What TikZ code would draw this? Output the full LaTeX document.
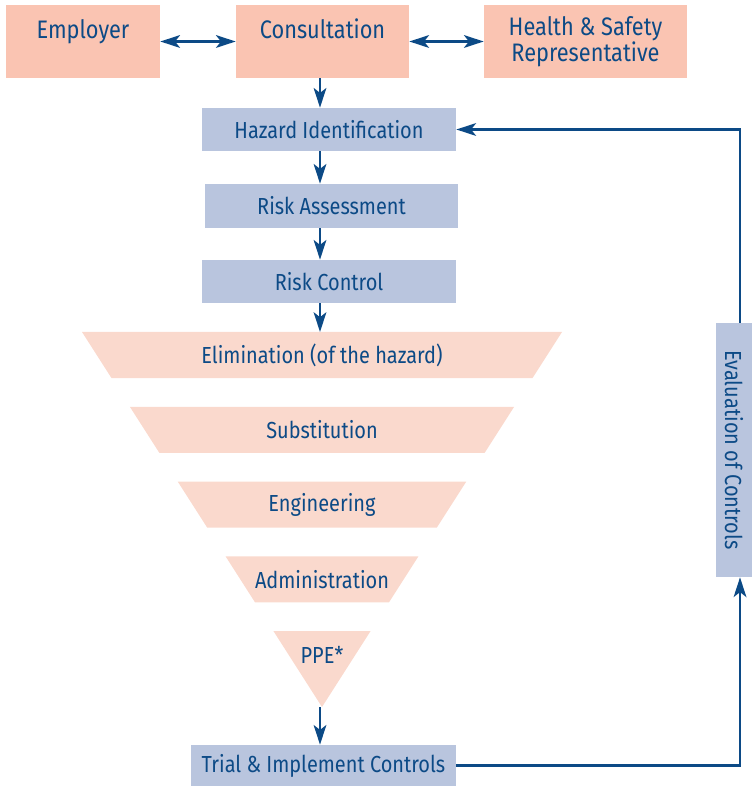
\documentclass[tikz,border=0pt]{standalone}
\usepackage{fontspec}
\setmainfont{Fira Sans}[FakeStretch=0.86]
\usepackage{graphicx}
\usetikzlibrary{arrows.meta}

\definecolor{topfill}{RGB}{250,196,178}
\definecolor{stepfill}{RGB}{250,217,205}
\definecolor{boxblue}{RGB}{185,197,222}
\definecolor{inkblue}{RGB}{12,74,134}

\tikzset{
  box/.style={fill=boxblue, inner sep=0pt, minimum height=1.075cm, text=inkblue},
  topbox/.style={fill=topfill, inner sep=0pt, minimum height=1.825cm, text=inkblue, align=center,
    font=\fontsize{18}{18.2}\selectfont},
  lifted/.style={minimum height=0pt, text height=0.83cm, text depth=0.995cm},
  flow/.style={draw=inkblue, line width=1.8pt},
}

\begin{document}
\begin{tikzpicture}[x=0.025cm, y=-0.025cm,
  >={Stealth[length=14pt,width=9pt,inset=3.5pt]},
  font=\fontsize{16.5}{17.7}\selectfont]
\useasboundingbox (0,0) rectangle (753,786);
\coordinate (axis) at (320,0);
\coordinate (fb) at (740,0);

% consultation row
\node[topbox, lifted, minimum width=3.85cm] (emp) at (83,41.5) {Employer};
\node[topbox, lifted, minimum width=4.325cm] (cons) at (322.5,41.5) {Consultation};
\node[topbox, minimum width=5.075cm] (hsr) at (585.5,41.5) {Health \& Safety\\Representative};
\draw[flow,<->] (emp) -- (cons);
\draw[flow,<->] (cons) -- (hsr);

% risk management steps
\node[box, minimum width=6.35cm] (haz) at (329,129.5) {Hazard Identification};
\node[box, minimum width=6.325cm, minimum height=1.1cm] (ra) at (331.5,206) {Risk Assessment};
\node[box, minimum width=6.35cm] (rc) at (329,281.5) {Risk Control};
\draw[flow,->] (cons.south -| axis) -- (haz.north -| axis);
\draw[flow,->] (haz.south -| axis) -- (ra.north -| axis);
\draw[flow,->] (ra.south -| axis) -- (rc.north -| axis);

% hierarchy of controls, bands cut from one inverted triangle
\foreach \n/\i/\txt in {elim/0/{Elimination (of the hazard)}, subs/1/Substitution,
                        eng/2/Engineering, adm/3/Administration}{
  \pgfmathsetmacro{\yt}{332+74.75*\i}
  \pgfmathsetmacro{\yb}{\yt+46}
  \fill[stepfill] ({322-(707-\yt)*0.64},\yt) -- ({322+(707-\yt)*0.64},\yt)
    -- ({322+(707-\yb)*0.64},\yb) -- ({322-(707-\yb)*0.64},\yb) -- cycle;
  \node[text=inkblue] (\n) at (322,{\yt+23}) {\txt};
  \coordinate (\n-top) at (320,\yt);
}
\fill[stepfill] (273.4,631) -- (370.6,631) -- (322,707) -- cycle;
\node[text=inkblue] (ppe) at (322,655) {PPE*};
\coordinate (ppe-tip) at (320,707);
\draw[flow,->] (rc.south -| axis) -- (elim-top);

% implementation and feedback loop
\node[box, minimum width=6.625cm, minimum height=1.025cm] (trial) at (323.5,765.5) {Trial \& Implement Controls};
\node[box, minimum width=0.9cm, minimum height=6.35cm] (eval) at (734,450) {\rotatebox{-90}{Evaluation of Controls}};
\draw[flow,->] (ppe-tip) -- (trial.north -| axis);
\draw[flow,->] (trial.east) -| (eval.south -| fb);
\draw[flow,->] (eval.north -| fb) |- (haz.east);
\end{tikzpicture}
\end{document}
